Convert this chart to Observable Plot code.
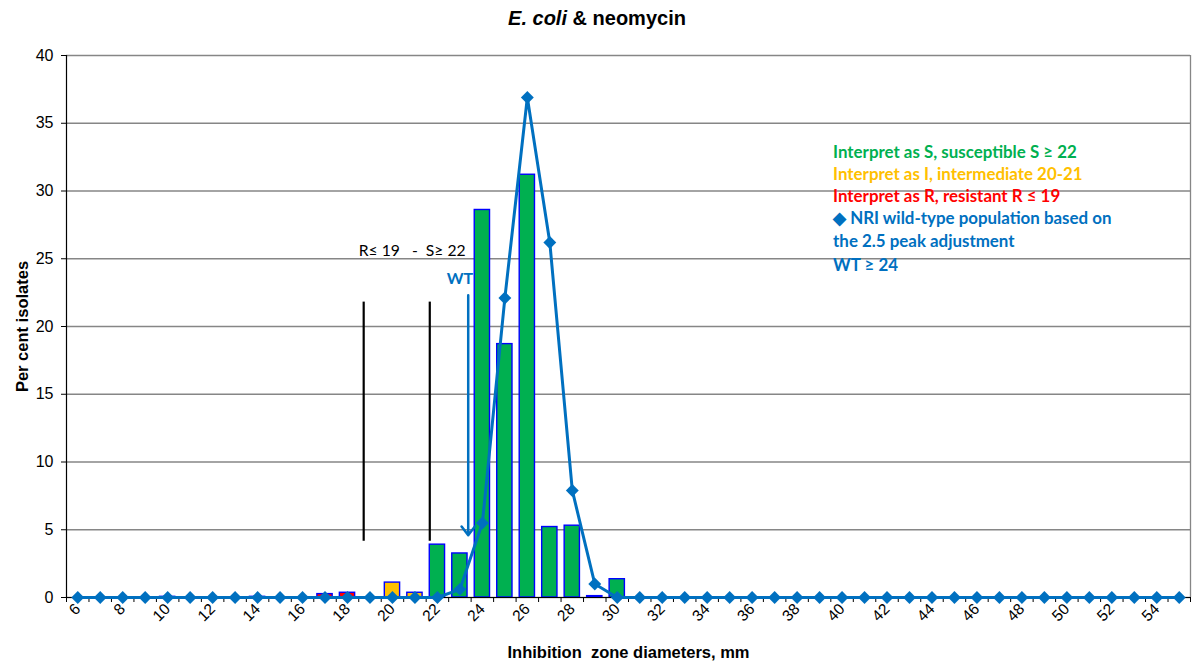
<!DOCTYPE html>
<html>
<head>
<meta charset="utf-8">
<script src="https://cdn.jsdelivr.net/npm/d3@7"></script>
<script src="https://cdn.jsdelivr.net/npm/@observablehq/plot@0.6"></script>
<style>
  html, body { margin: 0; padding: 0; background: #fff; }
  #title {
    width: 1194px; height: 36px; text-align: center; color: #000;
    font: bold 20px "Liberation Sans", Arial, sans-serif;
    line-height: 36px;
  }
  #chart svg { display: block; }
  g[aria-label="x-axis label"] text, g[aria-label="y-axis label"] text { font-weight: bold; font-size: 16.5px; }
</style>
</head>
<body>
<div id="title"><i>E. coli</i> &amp; neomycin</div>
<div id="chart"></div>
<script>
// Inhibition zone diameters (mm), one category per millimetre
const diameters = [6, 7, 8, 9, 10, 11, 12, 13, 14, 15, 16, 17, 18, 19, 20, 21, 22, 23, 24, 25,
                   26, 27, 28, 29, 30, 31, 32, 33, 34, 35, 36, 37, 38, 39, 40, 41, 42, 43, 44, 45,
                   46, 47, 48, 49, 50, 51, 52, 53, 54, 55];
// Observed distribution, per cent of isolates
const observedPct = [0, 0, 0, 0, 0.05, 0, 0, 0, 0.05, 0, 0, 0.25, 0.35, 0, 1.1, 0.35, 3.9, 3.25, 28.6, 18.7,
                     31.2, 5.2, 5.3, 0.1, 1.35, 0, 0, 0, 0, 0, 0, 0, 0, 0, 0, 0, 0, 0, 0, 0,
                     0, 0, 0, 0, 0, 0, 0, 0, 0, 0];
// NRI wild-type population (2.5 peak adjustment), per cent
const wildTypePct = [0, 0, 0, 0, 0, 0, 0, 0, 0, 0, 0, 0, 0, 0, 0, 0, 0, 0.6, 5.5, 22.1,
                     36.9, 26.2, 7.9, 1.0, 0, 0, 0, 0, 0, 0, 0, 0, 0, 0, 0, 0, 0, 0, 0, 0,
                     0, 0, 0, 0, 0, 0, 0, 0, 0, 0];
// Axis ticks
const yTicks = [0, 5, 10, 15, 20, 25, 30, 35, 40];
const xTickLabels = [6, 8, 10, 12, 14, 16, 18, 20, 22, 24, 26, 28, 30, 32, 34, 36, 38, 40, 42, 44, 46, 48, 50, 52, 54];
// Breakpoints
const resistantMax = 19;
const susceptibleMin = 22;
// Hand-placed breakpoint bars (mm, per cent)
const breakpointBars = [
  {mm: 18.72, from: 4.15, to: 21.8},
  {mm: 21.66, from: 4.15, to: 21.8}
];
// WT cut-off arrow (mm, per cent)
const wtArrow = [{mm: 23.37, from: 22.3, to: 4.6}];
const wtLabel = [{mm: 23.0, pct: 23.5, text: "WT"}];
const breakpointLabel = [{mm: 18.5, pct: 25.6, text: "R\u2264 19\u00a0\u00a0 -\u00a0 S\u2265 22"}];
// Interpretation notes
const notes = [
  {text: "Interpret as S, susceptible S \u2265 22", color: "#00B050", pct: 32.8},
  {text: "Interpret as I, intermediate 20-21", color: "#FFC000", pct: 31.2},
  {text: "Interpret as R, resistant R \u2264 19", color: "#FF0000", pct: 29.6},
  {text: "\u25C6 NRI wild-type population based on", color: "#0070C0", pct: 28.0},
  {text: "the 2.5 peak adjustment", color: "#0070C0", pct: 26.3},
  {text: "WT \u2265 24", color: "#0070C0", pct: 24.5}
];
const notesMm = 39.6;

const bars = diameters.map((mm, i) => ({mm, pct: observedPct[i]})).filter(d => d.pct > 0);
const wild = diameters.map((mm, i) => ({mm, pct: wildTypePct[i]}));
const boundaries = [diameters[0] - 0.5, ...diameters.map(d => d + 0.5)];

const barColor = d => d.mm <= resistantMax ? "#FF0000" : d.mm >= susceptibleMin ? "#00B050" : "#FFC000";
const blue = "#0070C0";
const grid = "#868686";

const chart = Plot.plot({
  width: 1194,
  height: 632,
  marginLeft: 66,
  marginRight: 4,
  marginTop: 19,
  marginBottom: 71,
  style: {fontFamily: "'Liberation Sans', Arial, sans-serif", fontSize: "15px", color: "#000", background: "#fff"},
  x: {type: "linear", domain: [boundaries[0], boundaries[boundaries.length - 1]]},
  y: {domain: [0, 40]},
  marks: [
    Plot.ruleY(yTicks, {stroke: grid, strokeWidth: 1.3}),
    Plot.ruleX([boundaries[boundaries.length - 1]], {stroke: grid, strokeWidth: 1.3}),
    Plot.rectY(bars, {
      x1: d => d.mm - 0.5, x2: d => d.mm + 0.5, y: "pct",
      insetLeft: 3.6, insetRight: 3.6,
      fill: barColor, stroke: "#0000FF", strokeWidth: 1.4
    }),
    Plot.ruleY([0], {stroke: "#000", strokeWidth: 1.2}),
    Plot.ruleX([boundaries[0]], {stroke: "#000", strokeWidth: 1.2}),
    Plot.axisY({
      ticks: yTicks, tickSize: 5, tickPadding: 8, fontSize: 16,
      label: "Per cent isolates", labelAnchor: "center", labelArrow: false, labelOffset: 50
    }),
    Plot.axisX({ticks: boundaries, tickSize: 5, tickFormat: () => "", label: null}),
    Plot.axisX({
      ticks: xTickLabels, tickSize: 0, tickRotate: -45, tickPadding: 9, fontSize: 15.5,
      label: "Inhibition\u00a0 zone diameters, mm", labelAnchor: "center", labelArrow: false, labelOffset: 60
    }),
    Plot.ruleX(breakpointBars, {x: "mm", y1: "from", y2: "to", stroke: "#000", strokeWidth: 2.2}),
    Plot.line(wild, {x: "mm", y: "pct", stroke: blue, strokeWidth: 3}),
    Plot.arrow(wtArrow, {x: "mm", y1: "from", y2: "to", stroke: blue, strokeWidth: 2.5, headLength: 6.5, headAngle: 75}),
    Plot.dot(wild, {x: "mm", y: "pct", symbol: "diamond2", r: 5.8, fill: blue, stroke: "none"}),
    Plot.text(wtLabel, {x: "mm", y: "pct", text: "text", fill: blue, fontWeight: "bold", fontSize: 16, fontFamily: "Lato, sans-serif"}),
    Plot.text(breakpointLabel, {x: "mm", y: "pct", text: "text", textAnchor: "start", fill: "#000", fontSize: 15.7, fontFamily: "Lato, sans-serif"}),
    Plot.text(notes, {x: () => notesMm, y: "pct", text: "text", fill: "color", textAnchor: "start", fontWeight: "bold", fontSize: 16.9, fontFamily: "Lato, sans-serif"})
  ]
});
document.getElementById("chart").append(chart);
</script>
</body>
</html>
